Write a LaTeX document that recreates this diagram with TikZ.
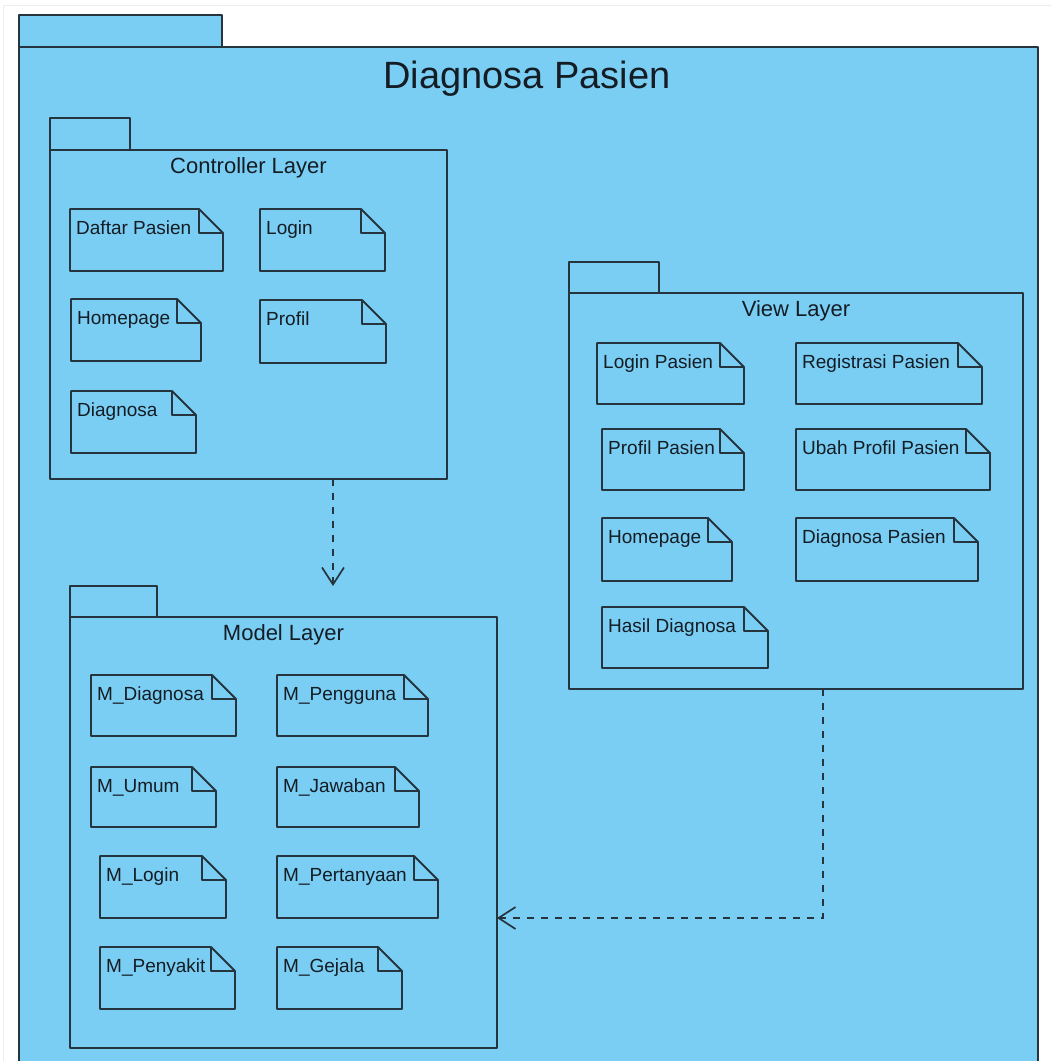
\documentclass[tikz,border=0pt]{standalone}
\usepackage{fontspec}
\setmainfont{Liberation Sans}
\usetikzlibrary{arrows.meta,fit}

\definecolor{pkgfill}{RGB}{122,206,243}
\definecolor{ink}{RGB}{38,52,62}
\definecolor{txt}{RGB}{20,28,36}

\tikzset{
  inkline/.style={draw=ink, line width=1.9pt, line join=round},
  pkgpart/.style={inkline, fill=pkgfill, rectangle, inner sep=0pt, outer sep=0pt},
  notebase/.style={rectangle, inner sep=0pt, outer sep=0pt},
  notetext/.style={font=\fontsize{19}{22}\selectfont, text=txt, inner sep=0pt, anchor=base west},
  pkgtitle/.style={font=\fontsize{22}{26}\selectfont, text=txt, inner sep=0pt, anchor=base},
  dep/.style={draw=ink, line width=1.8pt, dash pattern=on 7pt off 7pt,
    -{Straight Barb[length=17pt,width=22pt,line width=1.7pt]}},
}

% UML package: name, left, tab top, tab right, body top, body right, body bottom, title
\newcommand\umlpkg[8]{%
  \node[pkgpart, fit={(#2,#3) (#4,#5)}] (#1-tab) {};
  \node[pkgpart, fit={(#2,#5) (#6,#7)}] (#1) {};
  \node[notebase, fit=(#1-tab)(#1)] (#1-all) {};
  \node[pkgtitle] (#1-title) at ([yshift=-23.5pt]#1.north) {#8};
}

% UML note with folded corner: name, left, top, right, bottom, text
\newcommand\umlnote[6]{%
  \node[notebase, fit={(#2,#3) (#4,#5)}] (#1) {};
  \draw[inkline, fill=pkgfill] (#1.north west) -- ([xshift=-24pt]#1.north east)
    -- ([yshift=-24pt]#1.north east) -- (#1.south east) -- (#1.south west) -- cycle;
  \draw[inkline] ([xshift=-24pt]#1.north east) |- ([yshift=-24pt]#1.north east);
  \node[notetext] (#1-text) at ([xshift=6pt,yshift=-25pt]#1.north west) {#6};
}

\begin{document}
\begin{tikzpicture}[x=1pt, y=-1pt]
  \useasboundingbox[fill=white] (0,0) rectangle (1051,1061);
  \draw[black!7, line width=1pt] (3,1061) -- (3,5) -- (1051,5);

  % outer package
  \node[pkgpart, fit={(19,15) (222,47)}] (outer-tab) {};
  \node[pkgpart, fit={(19,47) (1038,1080)}] (outer) {};
  \node[font=\fontsize{38}{44}\selectfont, text=txt, inner sep=0pt, anchor=base]
    (outer-title) at (527,88) {Diagnosa Pasien};

  % controller layer
  \umlpkg{ctrl}{50}{118}{130}{150}{447}{479}{Controller Layer}
  \umlnote{cDaftar}{70}{209}{223}{271}{Daftar Pasien}
  \umlnote{cLogin}{260}{209}{385}{271}{Login}
  \umlnote{cHome}{71}{299}{201}{361}{Homepage}
  \umlnote{cProfil}{260}{300}{386}{363}{Profil}
  \umlnote{cDiag}{71}{391}{196}{453}{Diagnosa}

  % view layer
  \umlpkg{view}{569}{262}{659}{293}{1023}{689}{View Layer}
  \umlnote{vLogin}{597}{343}{744}{404}{Login Pasien}
  \umlnote{vReg}{796}{343}{982}{404}{Registrasi Pasien}
  \umlnote{vProfil}{602}{429}{744}{490}{Profil Pasien}
  \umlnote{vUbah}{796}{429}{990}{490}{Ubah Profil Pasien}
  \umlnote{vHome}{602}{518}{732}{581}{Homepage}
  \umlnote{vDiag}{796}{518}{978}{581}{Diagnosa Pasien}
  \umlnote{vHasil}{602}{607}{768}{668}{Hasil Diagnosa}

  % model layer
  \umlpkg{model}{70}{586}{157}{617}{497}{1048}{Model Layer}
  \umlnote{mDiag}{91}{675}{236}{736}{M\_Diagnosa}
  \umlnote{mPeng}{277}{675}{428}{736}{M\_Pengguna}
  \umlnote{mUmum}{91}{767}{216}{827}{M\_Umum}
  \umlnote{mJawab}{277}{767}{419}{827}{M\_Jawaban}
  \umlnote{mLogin}{100}{856}{226}{918}{M\_Login}
  \umlnote{mTanya}{277}{856}{438}{918}{M\_Pertanyaan}
  \umlnote{mSakit}{100}{947}{235}{1009}{M\_Penyakit}
  \umlnote{mGejala}{277}{947}{402}{1009}{M\_Gejala}

  % dependencies
  \coordinate (ctrlx) at (333,0);
  \coordinate (viewbend) at (823,918);
  \draw[dep] (ctrl.south -| ctrlx) -- (model-all.north -| ctrlx);
  \draw[dep] (view.south -| viewbend) |- (model.east |- viewbend);
\end{tikzpicture}
\end{document}
